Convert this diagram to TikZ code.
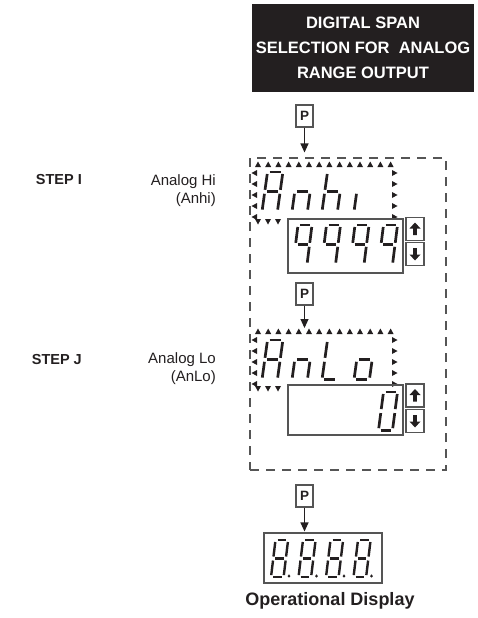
\documentclass[tikz,border=0pt]{standalone}
\usepackage{fontspec}
\setmainfont{Liberation Sans}
\usepackage{xcolor}
\usetikzlibrary{arrows.meta}

\definecolor{ink}{HTML}{231F20}
\definecolor{edgegray}{HTML}{555555}

\tikzset{
  pkey/.style={draw=edgegray, line width=1.1pt, minimum width=17pt, minimum height=22pt, inner sep=0pt, font=\fontsize{13.5}{13.5}\selectfont\bfseries},
  lcdbox/.style={draw=edgegray, line width=1.1pt, inner sep=0pt},
  keybox/.style={draw=edgegray, line width=1.1pt, minimum width=18pt, minimum height=23pt, inner sep=0pt},
  flow/.style={line width=1.1pt, draw=ink, -{Triangle[width=8pt,length=9pt]}},
  seg/.style={draw=ink, line width=2.7pt, shorten <=2pt, shorten >=2pt},
  tri/.style={fill=ink},
  steplabel/.style={font=\fontsize{14.5}{14.5}\selectfont\bfseries, anchor=base east, inner sep=0pt},
  namelabel/.style={font=\fontsize{15}{15}\selectfont, anchor=base east, inner sep=0pt}
}

% one cell of the 7-segment read-out (14 wide, 36 high, slanted)
\newcommand{\segA}{\draw[seg] (5,0) -- (19,0);}
\newcommand{\segB}{\draw[seg] (19,0) -- (16.5,18);}
\newcommand{\segC}{\draw[seg] (16.5,18) -- (14,36);}
\newcommand{\segD}{\draw[seg] (0,36) -- (14,36);}
\newcommand{\segE}{\draw[seg] (2.5,18) -- (0,36);}
\newcommand{\segF}{\draw[seg] (5,0) -- (2.5,18);}
\newcommand{\segG}{\draw[seg] (2.5,18) -- (16.5,18);}
\newcommand{\segDP}{\fill[ink] (20,35) circle (1.6);}
% arrows on the up/down keys
\newcommand{\upkey}[1]{\fill[ink, shift={(#1.center)}] (0,-6.5) -- (5.5,-0.5) -- (1.9,-0.5) -- (1.9,6) -- (-1.9,6) -- (-1.9,-0.5) -- (-5.5,-0.5) -- cycle;}
\newcommand{\downkey}[1]{\fill[ink, shift={(#1.center)}, yscale=-1] (0,-6.5) -- (5.5,-0.5) -- (1.9,-0.5) -- (1.9,6) -- (-1.9,6) -- (-1.9,-0.5) -- (-5.5,-0.5) -- cycle;}

\begin{document}
\begin{tikzpicture}[x=1pt, y=-1pt, every node/.style={text=ink}]
  \useasboundingbox (0,0) rectangle (478,618);

  % TITLE
  \node[fill=ink, text=white, minimum width=214pt, minimum height=88pt, align=center,
        font=\fontsize{16.5}{25}\selectfont\bfseries] (title) at (363,48)
        {DIGITAL SPAN\\SELECTION FOR\ \ ANALOG\\RANGE OUTPUT};

  % P key into the menu
  \node[pkey] (pI) at (304.5,116) {P};

  % Dashed menu frame
  \node[draw=edgegray, line width=1.1pt, dash pattern=on 9pt off 7pt,
        minimum width=196pt, minimum height=312pt] (span) at (348,314) {};
  \draw[flow, shorten >=5pt] (pI.south) -- (pI.south |- span.north);

  % Step labels
  \node[steplabel] (stepI) at (82,184) {STEP I};
  \node[namelabel] (hiName) at (216,185) {Analog Hi};
  \node[namelabel] (hiCode) at (216,203) {(Anhi)};
  \node[steplabel] (stepJ) at (82,364) {STEP J};
  \node[namelabel] (loName) at (216,363) {Analog Lo};
  \node[namelabel] (loCode) at (216,381) {(AnLo)};

  % Flashing marks round both prompts
  \foreach \dy in {0,167} {
    \begin{scope}[shift={(0,\dy)}]
      \foreach \i in {0,...,13}
        \fill[tri] ({258+10.2*\i},161.5) -- ++(-3,5.5) -- ++(6,0) -- cycle;
      \foreach \j in {0,...,4} {
        \fill[tri] (251.5,{173+11*\j}) -- ++(5.5,-3) -- ++(0,6) -- cycle;
        \fill[tri] (397.5,{173+11*\j}) -- ++(-5.5,-3) -- ++(0,6) -- cycle;
      }
      \foreach \i in {0,1,2}
        \fill[tri] ({258+10*\i},224.5) -- ++(-3,-5.5) -- ++(6,0) -- cycle;
    \end{scope}
  }

  % Prompt Anhi
  \begin{scope}[shift={(262,172)}, xscale=1.1, yscale=1.1] \segA\segB\segC\segE\segF\segG \end{scope}
  \begin{scope}[shift={(292,172)}, xscale=1.1, yscale=1.1] \segC\segE\segG \end{scope}
  \begin{scope}[shift={(322,172)}, xscale=1.1, yscale=1.1] \segF\segE\segG\segC \end{scope}
  \begin{scope}[shift={(354,172)}, xscale=1.1, yscale=1.1] \segE \end{scope}

  % Value 9999 with keys
  \node[lcdbox, minimum width=115pt, minimum height=54pt] (hiVal) at (345.5,246) {};
  \foreach \x in {293,321.5,350,378.5} {
    \begin{scope}[shift={(\x,225)}, yscale=1.1] \segA\segB\segC\segF\segG \end{scope}
  }
  \node[keybox] (hiUp) at (415,229) {};
  \node[keybox] (hiDn) at (415,254) {};
  \upkey{hiUp}
  \downkey{hiDn}

  % P key to step J
  \node[pkey] (pJ) at (304.5,294) {P};
  \coordinate (loTop) at (304.5,329);
  \draw[flow, shorten >=1pt] (pJ.south) -- (loTop);

  % Prompt AnLo
  \begin{scope}[shift={(262,340)}, xscale=1.1, yscale=1.1] \segA\segB\segC\segE\segF\segG \end{scope}
  \begin{scope}[shift={(292,340)}, xscale=1.1, yscale=1.1] \segC\segE\segG \end{scope}
  \begin{scope}[shift={(322,340)}, xscale=1.1, yscale=1.1] \segF\segE\segD \end{scope}
  \begin{scope}[shift={(354,340)}, xscale=1.1, yscale=1.1] \segC\segD\segE\segG \end{scope}

  % Value 0 with keys
  \node[lcdbox, minimum width=115pt, minimum height=50pt] (loVal) at (345.5,410) {};
  \begin{scope}[shift={(378.5,392)}, yscale=1.06] \segA\segB\segC\segD\segE\segF \end{scope}
  \node[keybox] (loUp) at (415,395.5) {};
  \node[keybox] (loDn) at (415,421) {};
  \upkey{loUp}
  \downkey{loDn}

  % Out to the operational display
  \node[pkey] (pOp) at (304.5,496) {P};
  \node[lcdbox, minimum width=118pt, minimum height=50pt] (opDisp) at (323,558) {};
  \draw[flow, shorten >=1pt] (pOp.south) -- (pOp.south |- opDisp.north);
  \foreach \x in {271,298.5,326,353.5} {
    \begin{scope}[shift={(\x,540)}, xscale=0.9, yscale=1.03, seg/.append style={line width=2.4pt}]
      \segA\segB\segC\segD\segE\segF\segG\segDP
    \end{scope}
  }
  \node[font=\fontsize{18}{18}\selectfont\bfseries, anchor=base, inner sep=0pt] (opLabel) at (330,605) {Operational Display};
\end{tikzpicture}
\end{document}
